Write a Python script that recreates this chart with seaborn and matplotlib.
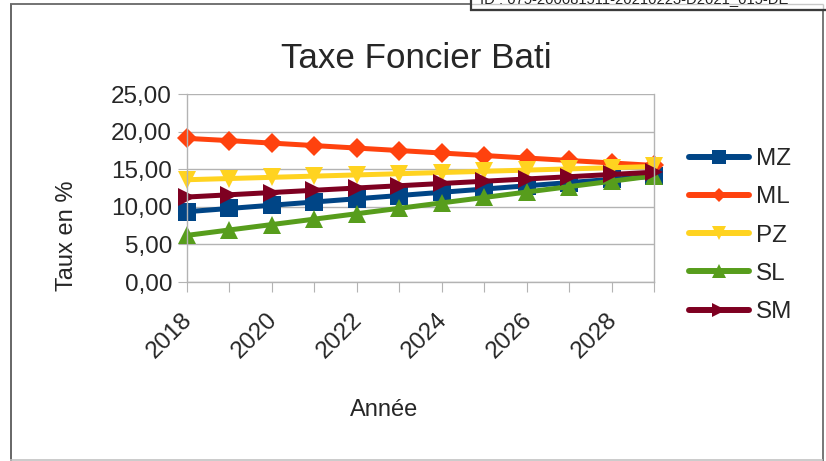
import matplotlib
matplotlib.use("Agg")
import matplotlib.pyplot as plt
import matplotlib.transforms as mtransforms
from matplotlib.lines import Line2D
from matplotlib.ticker import FuncFormatter, MultipleLocator
import pandas as pd
import seaborn as sns

# ---- data -------------------------------------------------------------
years = list(range(2018, 2030))
mz = [9.35, 9.78, 10.21, 10.64, 11.07, 11.50, 11.93, 12.36, 12.79, 13.22, 13.65, 14.08]
ml = [19.10, 18.80, 18.47, 18.14, 17.81, 17.48, 17.15, 16.82, 16.49, 16.16, 15.83, 15.50]
pz = [13.60, 13.76, 13.92, 14.08, 14.24, 14.40, 14.56, 14.72, 14.88, 15.04, 15.20, 15.36]
sl = [6.20, 6.92, 7.64, 8.36, 9.08, 9.80, 10.52, 11.24, 11.96, 12.68, 13.40, 14.12]
sm = [11.30, 11.60, 11.90, 12.20, 12.50, 12.80, 13.10, 13.40, 13.70, 14.00, 14.30, 14.60]

series_names = ["MZ", "ML", "PZ", "SL", "SM"]
series_values = [mz, ml, pz, sl, sm]
series_colors = ["#004586", "#ff420e", "#ffd320", "#579d1c", "#7e0021"]
series_markers = ["s", "D", "v", "^", ">"]
marker_sizes = [13.5, 9.8, 13.5, 13.5, 13.5]        # plot markers (pt)
legend_marker_sizes = [9.5, 7.0, 9.5, 9.5, 9.5]    # legend markers (pt)

title = "Taxe Foncier Bati"
x_title = "Année"
y_title = "Taux en %"
doc_id = "ID : 075-200081511-20210223-D2021_015-DE"

# ---- figure -----------------------------------------------------------
W, H = 826, 461
sns.set_style("white")
plt.rcParams["font.family"] = ["Liberation Sans", "DejaVu Sans"]

df = pd.DataFrame({
    "Année": years * len(series_names),
    "Taux": [v for vals in series_values for v in vals],
    "Série": [n for n in series_names for _ in years],
})

fig = plt.figure(figsize=(W / 100, H / 100), dpi=100)
fig.patch.set_facecolor("white")


def fx(x):
    return x / W


def fy(y):
    return 1 - y / H


ax = fig.add_axes([fx(187), fy(282), (654 - 187) / W, (282 - 94) / H])

sns.lineplot(
    data=df, x="Année", y="Taux", hue="Série", style="Série",
    hue_order=series_names, style_order=series_names,
    palette=dict(zip(series_names, series_colors)),
    markers=dict(zip(series_names, series_markers)),
    dashes=False, linewidth=3.6, markeredgewidth=0,
    legend=False, ax=ax, clip_on=False,
)

color_to_size = dict(zip(series_colors, marker_sizes))
for line in ax.lines:
    c = matplotlib.colors.to_hex(line.get_color())
    if c in color_to_size:
        line.set_markersize(color_to_size[c])
        line.set_clip_on(False)

grid_c = "#b3b3b3"
ax.set_xlim(years[0], years[-1])
ax.set_ylim(0, 25)
ax.yaxis.set_major_locator(MultipleLocator(5))
ax.yaxis.set_major_formatter(FuncFormatter(lambda v, p: f"{v:.2f}".replace(".", ",")))
ax.set_xticks(years)
ax.set_xticklabels([str(y) if (y - years[0]) % 2 == 0 else "" for y in years])
ax.yaxis.grid(True, color=grid_c, linewidth=1)
ax.xaxis.grid(False)
for side in ["left", "right", "bottom"]:
    ax.spines[side].set_color(grid_c)
    ax.spines[side].set_linewidth(1)
ax.spines["top"].set_visible(False)

ax.tick_params(axis="y", direction="out", length=6.5, width=0.8, color=grid_c,
               labelsize=17.5, pad=4.3, left=True)
ax.tick_params(axis="x", direction="out", length=7.2, width=0.8, color=grid_c,
               labelsize=17.5, pad=12.3, bottom=True)
offset = mtransforms.ScaledTranslation(-6 / 100, 0, fig.dpi_scale_trans)
for lab in ax.get_xticklabels():
    lab.set_rotation(45)
    lab.set_ha("right")
    lab.set_va("top")
    lab.set_rotation_mode("anchor")
    lab.set_transform(lab.get_transform() + offset)
ax.set_xlabel("")
ax.set_ylabel("")

# ---- texts ------------------------------------------------------------
fig.text(fx(416), fy(68), title, ha="center", va="baseline", fontsize=25.2)
fig.text(fx(384), fy(416), x_title, ha="center", va="baseline", fontsize=17)
fig.text(fx(67), fy(236), y_title, ha="center", va="center", rotation=90, fontsize=17)

# ---- legend -----------------------------------------------------------
handles = [
    Line2D([], [], color=c, marker=m, markersize=s, markeredgewidth=0, linewidth=4.3)
    for c, m, s in zip(series_colors, series_markers, legend_marker_sizes)
]
ax.legend(handles, series_names, loc="upper left",
          bbox_to_anchor=(fx(689), fy(148)), bbox_transform=fig.transFigure,
          frameon=False, fontsize=17.5, handlelength=2.47, handletextpad=0.3,
          labelspacing=0.67, borderpad=0, borderaxespad=0)

# ---- frame and document id box -----------------------------------------
def hline(y, x0, x1, color, lw):
    fig.add_artist(Line2D([fx(x0), fx(x1)], [fy(y), fy(y)], transform=fig.transFigure,
                          color=color, linewidth=lw * 0.72, solid_capstyle="butt"))


def vline(x, y0, y1, color, lw):
    fig.add_artist(Line2D([fx(x), fx(x)], [fy(y0), fy(y1)], transform=fig.transFigure,
                          color=color, linewidth=lw * 0.72, solid_capstyle="butt"))


hline(4.3, 10, 471, "#555555", 1.6)
hline(4.3, 471, 823, "#c8c8c8", 1.4)
vline(11, 4, 461, "#6a6a6a", 2)
vline(822.5, 4, 10, "#c8c8c8", 1.4)
vline(822.5, 10, 461, "#7a7a7a", 2)
hline(460, 10, 823, "#c0c0c0", 1.6)
hline(10.5, 470, 826, "#3a3a3a", 2.3)
vline(471, 0, 11, "#3a3a3a", 2.2)
fig.text(fx(480), fy(2.7), doc_id, ha="left", va="baseline", fontsize=10.6, color="#222222")

fig.savefig("out.png", dpi=100)
